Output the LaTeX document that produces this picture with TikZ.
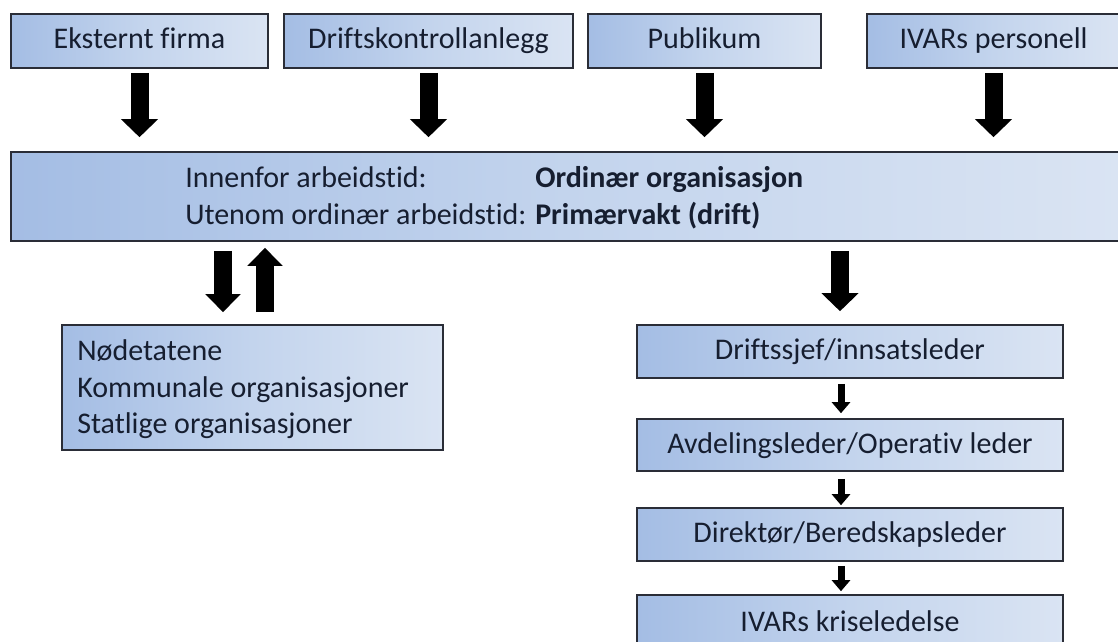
\documentclass[tikz,border=0pt]{standalone}
\usepackage{fontspec}
\setmainfont{Carlito}[Ligatures=NoCommon]
\usetikzlibrary{arrows.meta}
\definecolor{boxL}{RGB}{164,189,228}
\definecolor{boxM}{RGB}{195,212,237}
\definecolor{boxR}{RGB}{218,228,243}
\definecolor{edge}{RGB}{42,45,55}
\definecolor{ink}{RGB}{22,30,48}
\begin{document}
\begin{tikzpicture}[x=0.75pt,y=-0.75pt,
  box/.style={draw=edge, line width=1.6*0.75pt, left color=boxL, right color=boxR, middle color=boxM,
    inner sep=0pt, text=ink, font=\fontsize{22.5}{27.75}\selectfont, text height=16.5pt, text depth=4.5pt},
  txt/.style={inner sep=0pt, text=ink, font=\fontsize{22.5}{27.75}\selectfont},
  bigarrow/.style={line width=18*0.75pt, -{Triangle[length=18*0.75pt, width=36*0.75pt]}},
  smallarrow/.style={line width=7*0.75pt, -{Triangle[length=11*0.75pt, width=18*0.75pt]}}
]
\useasboundingbox (0,0) rectangle (1118,642);
\fill[white] (0,0) rectangle (1118,642);
\clip (0,0) rectangle (1118,642);

% top row
\node[box, minimum width=257*0.75pt, minimum height=54*0.75pt] (e1) at (139.5,41) {Eksternt firma};
\node[box, minimum width=289*0.75pt, minimum height=54*0.75pt] (e2) at (428.5,41) {Driftskontrollanlegg};
\node[box, minimum width=233*0.75pt, minimum height=54*0.75pt] (e3) at (704.5,41) {Publikum};
\node[box, minimum width=253*0.75pt, minimum height=54*0.75pt] (e4) at (993.5,41) {IVARs personell};

% big box
\node[box, minimum width=1111*0.75pt, minimum height=89*0.75pt] (big) at (566.5,196.5) {};
\node[txt, anchor=base west] (t1) at (185,187) {Innenfor arbeidstid:};
\node[txt, anchor=base west] (t2) at (185,224) {Utenom ordinær arbeidstid:};
\node[txt, anchor=base west, font=\fontsize{22.5}{27.75}\selectfont\bfseries] (t3) at (535,187) {Ordinær organisasjon};
\node[txt, anchor=base west, font=\fontsize{22.5}{27.75}\selectfont\bfseries] (t4) at (535,224) {Primærvakt (drift)};

% left box
\node[box, minimum width=381*0.75pt, minimum height=125*0.75pt] (lb) at (252.5,387.5) {};
\node[txt, anchor=base west] (l1) at (77,360) {Nødetatene};
\node[txt, anchor=base west] (l2) at (77,397) {Kommunale organisasjoner};
\node[txt, anchor=base west] (l3) at (77,433) {Statlige organisasjoner};

% right column
\node[box, minimum width=426*0.75pt, minimum height=53*0.75pt] (r1) at (850,351.5) {Driftssjef/innsatsleder};
\node[box, minimum width=426*0.75pt, minimum height=52*0.75pt] (r2) at (850,445) {Avdelingsleder/Operativ leder};
\node[box, minimum width=426*0.75pt, minimum height=53*0.75pt] (r3) at (850,534.5) {Direktør/Beredskapsleder};
\node[box, minimum width=426*0.75pt, minimum height=56*0.75pt] (r4) at (850,623) {IVARs kriseledelse};

% arrows top -> big
\foreach \n in {e1,e2,e3,e4}{
  \draw[bigarrow, shorten <=4*0.75pt, shorten >=14*0.75pt] (\n.south) -- (\n.south |- big.north);
}

% left pair
\coordinate (dl) at (223,300);
\coordinate (ul) at (265,300);
\draw[bigarrow, -{Triangle[length=18*0.75pt, width=34*0.75pt]}, shorten <=9*0.75pt, shorten >=12*0.75pt] (dl |- big.south) -- (dl |- lb.north);
\draw[bigarrow, -{Triangle[length=18*0.75pt, width=34*0.75pt]}, shorten <=12*0.75pt, shorten >=6*0.75pt] (ul |- lb.north) -- (ul |- big.south);

% right big arrow
\coordinate (rc) at (840,300);
\draw[bigarrow, shorten <=9*0.75pt, shorten >=13*0.75pt] (rc |- big.south) -- (rc |- r1.north);

% small arrows
\coordinate (sc) at (841,300);
\draw[smallarrow, shorten <=5*0.75pt, shorten >=5*0.75pt] (sc |- r1.south) -- (sc |- r2.north);
\draw[smallarrow, shorten <=7*0.75pt, shorten >=2*0.75pt] (sc |- r2.south) -- (sc |- r3.north);
\draw[smallarrow, shorten <=4*0.75pt, shorten >=3*0.75pt] (sc |- r3.south) -- (sc |- r4.north);
\end{tikzpicture}
\end{document}
